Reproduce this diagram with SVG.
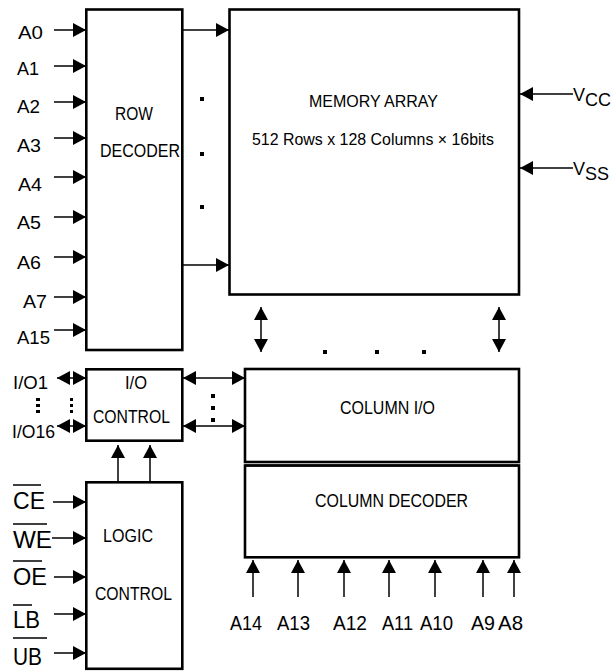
<svg xmlns="http://www.w3.org/2000/svg" width="612" height="671" viewBox="0 0 612 671">
<style>
.box{fill:#fff;stroke:#000;stroke-width:2.6}
.wire{stroke:#000;stroke-width:1.5;fill:none}
.t{font-family:"Liberation Sans",Arial,sans-serif;fill:#000}
.p{font-size:18px}
.b{font-size:18px}
.s{font-size:24px}
.d{fill:#000}
</style>
<defs>
<marker id="ah" markerUnits="userSpaceOnUse" markerWidth="13" markerHeight="14" refX="13" refY="7" orient="auto-start-reverse" viewBox="0 0 13 14">
<path d="M0,0 L13,7 L0,14 z" fill="#000"/>
</marker>
</defs>
<rect width="612" height="671" fill="#fff"/>

<g id="row-decoder">
<rect class="box" x="86.3" y="9.5" width="96" height="340.5"/>
<text class="t b" x="115" y="120" textLength="38" lengthAdjust="spacingAndGlyphs">ROW</text>
<text class="t b" x="100" y="157" textLength="80" lengthAdjust="spacingAndGlyphs">DECODER</text>
</g>

<g id="memory-array">
<rect class="box" x="229.5" y="9.5" width="289.5" height="285"/>
<text class="t" style="font-size:17px" x="309" y="107" textLength="129" lengthAdjust="spacingAndGlyphs">MEMORY ARRAY</text>
<text class="t" style="font-size:17px" x="252" y="145" textLength="242" lengthAdjust="spacingAndGlyphs">512 Rows x 128 Columns × 16bits</text>
</g>

<g id="column-io">
<rect class="box" x="245" y="369" width="274" height="93"/>
<text class="t b" x="340" y="414" textLength="95" lengthAdjust="spacingAndGlyphs">COLUMN I/O</text>
</g>

<g id="column-decoder">
<rect class="box" x="245" y="465.5" width="274" height="91.8"/>
<text class="t b" x="315" y="507" textLength="153" lengthAdjust="spacingAndGlyphs">COLUMN DECODER</text>
</g>

<g id="io-control">
<rect class="box" x="86.3" y="369.3" width="96" height="71.4"/>
<text class="t b" x="125" y="389" textLength="22" lengthAdjust="spacingAndGlyphs">I/O</text>
<text class="t b" x="93" y="423" textLength="77" lengthAdjust="spacingAndGlyphs">CONTROL</text>
</g>

<g id="logic-control">
<rect class="box" x="86.3" y="482.3" width="96" height="186.5"/>
<text class="t b" x="103" y="542" textLength="50" lengthAdjust="spacingAndGlyphs">LOGIC</text>
<text class="t b" x="95" y="600" textLength="77" lengthAdjust="spacingAndGlyphs">CONTROL</text>
</g>

<g id="labels">
<text class="t p" x="18" y="39" textLength="25" lengthAdjust="spacingAndGlyphs">A0</text>
<text class="t p" x="17" y="75" textLength="22" lengthAdjust="spacingAndGlyphs">A1</text>
<text class="t p" x="17" y="113" textLength="23" lengthAdjust="spacingAndGlyphs">A2</text>
<text class="t p" x="17" y="152" textLength="24" lengthAdjust="spacingAndGlyphs">A3</text>
<text class="t p" x="18" y="191" textLength="24" lengthAdjust="spacingAndGlyphs">A4</text>
<text class="t p" x="17" y="229" textLength="24" lengthAdjust="spacingAndGlyphs">A5</text>
<text class="t p" x="17" y="269" textLength="24" lengthAdjust="spacingAndGlyphs">A6</text>
<text class="t p" x="23" y="308" textLength="24" lengthAdjust="spacingAndGlyphs">A7</text>
<text class="t p" x="17" y="344" textLength="33" lengthAdjust="spacingAndGlyphs">A15</text>
<text class="t p" x="13" y="389" textLength="35" lengthAdjust="spacingAndGlyphs">I/O1</text>
<text class="t p" x="12" y="438" textLength="43" lengthAdjust="spacingAndGlyphs">I/O16</text>
<text class="t s" x="13" y="509" textLength="32" lengthAdjust="spacingAndGlyphs">CE</text>
<text class="t s" x="13" y="548" textLength="39" lengthAdjust="spacingAndGlyphs">WE</text>
<text class="t s" x="13" y="585" textLength="34" lengthAdjust="spacingAndGlyphs">OE</text>
<text class="t s" x="13" y="628" textLength="27" lengthAdjust="spacingAndGlyphs">LB</text>
<text class="t s" x="13" y="665" textLength="29" lengthAdjust="spacingAndGlyphs">UB</text>
<text class="t" style="font-size:21px" x="230" y="630" textLength="32" lengthAdjust="spacingAndGlyphs">A14</text>
<text class="t" style="font-size:21px" x="277" y="630" textLength="33" lengthAdjust="spacingAndGlyphs">A13</text>
<text class="t" style="font-size:21px" x="333" y="630" textLength="34" lengthAdjust="spacingAndGlyphs">A12</text>
<text class="t" style="font-size:21px" x="382" y="630" textLength="31" lengthAdjust="spacingAndGlyphs">A11</text>
<text class="t" style="font-size:21px" x="420" y="630" textLength="33" lengthAdjust="spacingAndGlyphs">A10</text>
<text class="t" style="font-size:21px" x="471" y="630" textLength="24" lengthAdjust="spacingAndGlyphs">A9</text>
<text class="t" style="font-size:21px" x="498" y="630" textLength="25" lengthAdjust="spacingAndGlyphs">A8</text>
<text class="t p" x="573" y="101">V<tspan font-size="18" dy="5">CC</tspan></text>
<text class="t p" x="573" y="175">V<tspan font-size="18" dy="5">SS</tspan></text>
<path class="wire" d="M13,485 H41 M13,524 H47 M13,561 H42 M13,605 H32 M13,638 H47"/>
</g>

<g id="connectors">
<g class="wire" marker-end="url(#ah)">
<line x1="54" y1="30" x2="86" y2="30"/>
<line x1="54" y1="66" x2="86" y2="66"/>
<line x1="54" y1="102" x2="86" y2="102"/>
<line x1="54" y1="138" x2="86" y2="138"/>
<line x1="54" y1="177" x2="86" y2="177"/>
<line x1="54" y1="217" x2="86" y2="217"/>
<line x1="54" y1="257" x2="86" y2="257"/>
<line x1="54" y1="297" x2="86" y2="297"/>
<line x1="54" y1="330" x2="86" y2="330"/>
<line x1="183" y1="30" x2="229" y2="30"/>
<line x1="183" y1="265" x2="229" y2="265"/>
<line x1="573" y1="94" x2="520" y2="94"/>
<line x1="573" y1="168" x2="520" y2="168"/>
<line x1="53" y1="502" x2="86" y2="502"/>
<line x1="52" y1="538" x2="86" y2="538"/>
<line x1="54" y1="577" x2="86" y2="577"/>
<line x1="54" y1="614" x2="86" y2="614"/>
<line x1="54" y1="653" x2="86" y2="653"/>
<line x1="118" y1="482" x2="118" y2="445"/>
<line x1="150" y1="482" x2="150" y2="445"/>
<line x1="253" y1="597" x2="253" y2="560"/>
<line x1="298" y1="597" x2="298" y2="560"/>
<line x1="344" y1="597" x2="344" y2="560"/>
<line x1="389" y1="597" x2="389" y2="560"/>
<line x1="435" y1="597" x2="435" y2="560"/>
<line x1="483" y1="597" x2="483" y2="560"/>
<line x1="514" y1="597" x2="514" y2="560"/>
</g>
<g class="wire" marker-start="url(#ah)" marker-end="url(#ah)">
<line x1="261" y1="307" x2="261" y2="352"/>
<line x1="499" y1="307" x2="499" y2="352"/>
<line x1="57" y1="378" x2="86" y2="378"/>
<line x1="57" y1="426" x2="86" y2="426"/>
<line x1="183" y1="378" x2="245" y2="378"/>
<line x1="183" y1="426" x2="245" y2="426"/>
</g>
<line x1="245" y1="462" x2="519" y2="462" stroke="#000" stroke-width="2"/>
<line x1="245" y1="465.5" x2="519" y2="465.5" stroke="#000" stroke-width="2"/>
</g>

<g id="ellipses">
<rect class="d" x="200" y="97" width="4" height="4"/>
<rect class="d" x="200" y="152" width="4" height="4"/>
<rect class="d" x="200" y="205" width="4" height="4"/>
<rect class="d" x="323" y="350" width="4" height="4"/>
<rect class="d" x="375" y="350" width="4" height="4"/>
<rect class="d" x="422" y="350" width="4" height="4"/>
<rect class="d" x="211" y="394" width="4" height="4"/>
<rect class="d" x="211" y="406" width="4" height="4"/>
<rect class="d" x="211" y="418" width="4" height="4"/>
<rect class="d" x="36" y="398" width="4" height="3"/>
<rect class="d" x="36" y="404" width="4" height="3"/>
<rect class="d" x="36" y="410" width="4" height="3"/>
<rect class="d" x="70" y="398" width="3" height="3"/>
<rect class="d" x="70" y="404" width="3" height="3"/>
<rect class="d" x="70" y="410" width="3" height="3"/>
</g>
</svg>
